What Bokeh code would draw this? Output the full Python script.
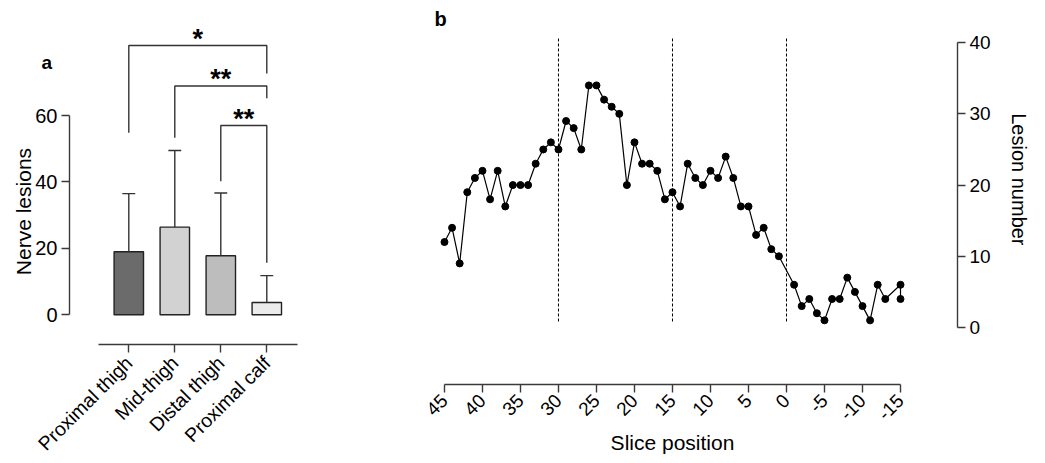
import math
from bokeh.plotting import figure
from bokeh.models import Range1d, FixedTicker, Label
from bokeh.layouts import row
from bokeh.embed import file_html
from bokeh.resources import INLINE
from bokeh.core.properties import value

# ---------------- Panel a data ----------------
categories = ["Proximal thigh", "Mid-thigh", "Distal thigh", "Proximal calf"]
lesion_means = [19.0, 26.4, 17.8, 3.7]
lesion_upper = [36.5, 49.5, 36.7, 11.8]
bar_colors = ["#6b6b6b", "#d2d2d2", "#bdbdbd", "#ebebeb"]
nerve_ticks = [0, 20, 40, 60]

# significance brackets (category index from/to, heights in data units)
bracket_from = [1, 2, 3]
bracket_to = [4, 4, 4]
bracket_top = [81.1, 68.9, 57.0]
bracket_left_end = [54.8, 53.3, 40.2]
bracket_right_end = [72.7, 65.2, 15.7]
bracket_labels = ["*", "**", "**"]

# ---------------- Panel b data ----------------
slice_positions = [45, 44, 43, 42, 41, 40, 39, 38, 37, 36, 35, 34, 33, 32, 31, 30,
                   29, 28, 27, 26, 25, 24, 23, 22, 21, 20, 19, 18, 17, 16, 15,
                   14, 13, 12, 11, 10, 9, 8, 7, 6, 5, 4, 3, 2, 1,
                   -1, -2, -3, -4, -5, -6, -7, -8, -9, -10, -11, -12, -13, -15, -15]
lesion_counts = [12, 14, 9, 19, 21, 22, 18, 22, 17, 20, 20, 20, 23, 25, 26, 25,
                 29, 28, 25, 34, 34, 32, 31, 30, 20, 26, 23, 23, 22, 18, 19,
                 17, 23, 21, 20, 22, 21, 24, 21, 17, 17, 13, 14, 11, 10,
                 6, 3, 4, 2, 1, 4, 4, 7, 5, 3, 1, 6, 4, 6, 4]
region_boundaries = [30, 15, 0]
slice_ticks = [45, 40, 35, 30, 25, 20, 15, 10, 5, 0, -5, -10, -15]
lesion_ticks = [0, 10, 20, 30, 40]

FONT = "Liberation Sans"
AX_COL = "#3a3a3a"


def style_axis(ax, label_size):
    ax.axis_line_color = AX_COL
    ax.axis_line_width = 1.4
    ax.major_tick_line_color = AX_COL
    ax.major_tick_line_width = 1.4
    ax.major_tick_in = 0
    ax.major_tick_out = 8
    ax.minor_tick_line_color = None
    ax.major_label_text_font = FONT
    ax.major_label_text_font_size = label_size
    ax.major_label_text_color = "black"


# ================= Panel a =================
cat_x = list(range(1, len(categories) + 1))

pa = figure(frame_width=292, frame_height=447,
            x_range=Range1d(-1.637, 4.711), y_range=Range1d(-42.08, 92.56),
            min_border_left=7, min_border_right=100, min_border_top=7,
            min_border_bottom=0,
            output_backend="svg", toolbar_location=None)
pa.outline_line_color = None
pa.grid.visible = False
pa.background_fill_color = "white"

pa.vbar(x=cat_x, top=lesion_means, bottom=0, width=0.64,
        fill_color=bar_colors, line_color="#222222", line_width=1.4)
pa.segment(x0=cat_x, y0=lesion_means, x1=cat_x, y1=lesion_upper,
           line_color="#333333", line_width=1.4)
pa.segment(x0=[x - 0.14 for x in cat_x], y0=lesion_upper,
           x1=[x + 0.14 for x in cat_x], y1=lesion_upper,
           line_color="#333333", line_width=1.4)

b_xs = [[a, a, b, b] for a, b in zip(bracket_from, bracket_to)]
b_ys = [[le, t, t, re] for le, t, re in zip(bracket_left_end, bracket_top, bracket_right_end)]
pa.multi_line(xs=b_xs, ys=b_ys, line_color="#333333", line_width=1.4)
pa.text(x=[(a + b) / 2 for a, b in zip(bracket_from, bracket_to)],
        y=bracket_top, text=bracket_labels,
        text_font=value(FONT), text_font_style="bold", text_font_size="27px",
        text_align="center", text_baseline="alphabetic", y_offset=-7,
        text_color="black")

pa.yaxis.ticker = FixedTicker(ticks=nerve_ticks)
pa.yaxis.bounds = (0, 60)
pa.yaxis.fixed_location = -0.289
pa.xaxis.ticker = FixedTicker(ticks=cat_x)
pa.xaxis.major_label_overrides = {x: c for x, c in zip(cat_x, categories)}
pa.xaxis.bounds = (0.348, 4.667)
pa.xaxis.fixed_location = -8.95
pa.xaxis.major_label_orientation = math.pi / 4
style_axis(pa.yaxis[0], "20px")
style_axis(pa.xaxis[0], "19.5px")
pa.yaxis.major_label_standoff = 4
pa.xaxis.major_label_standoff = 7

pa.add_layout(Label(x=-1.289, y=31.1, text="Nerve lesions", angle=math.pi / 2,
                    text_font=FONT, text_font_size="21px", text_color="black",
                    text_align="center", text_baseline="middle"))
pa.add_layout(Label(x=-0.898, y=76.1, text="a", text_font=FONT,
                    text_font_style="bold", text_font_size="19px",
                    text_color="black",
                    text_align="left", text_baseline="middle"))

# ================= Panel b =================
pb = figure(frame_width=605, frame_height=447,
            x_range=Range1d(46.97, -32.63), y_range=Range1d(-17.84, 44.94),
            y_axis_location="right",
            min_border_left=30, min_border_right=0, min_border_top=7,
            min_border_bottom=0,
            output_backend="svg", toolbar_location=None)
pb.outline_line_color = None
pb.grid.visible = False
pb.background_fill_color = "white"

pb.segment(x0=region_boundaries, y0=[0.84] * len(region_boundaries),
           x1=region_boundaries, y1=[40.7] * len(region_boundaries),
           line_color="black", line_width=1, line_dash="3 2")
pb.line(x=slice_positions, y=lesion_counts, line_color="black", line_width=1.2)
pb.scatter(x=slice_positions, y=lesion_counts, size=7, fill_color="black",
           line_color="black")

pb.xaxis.ticker = FixedTicker(ticks=slice_ticks)
pb.xaxis.major_label_overrides = {t: str(t) for t in slice_ticks}
pb.xaxis.bounds = (-15, 45)
pb.xaxis.fixed_location = -8.0
pb.xaxis.major_label_orientation = math.pi / 4
pb.yaxis.ticker = FixedTicker(ticks=lesion_ticks)
pb.yaxis.bounds = (0, 40)
pb.yaxis.fixed_location = -22.5
style_axis(pb.xaxis[0], "19px")
style_axis(pb.yaxis[0], "19px")
pb.xaxis.major_label_standoff = 5
pb.yaxis.major_label_standoff = 4

pb.add_layout(Label(x=15, y=-16.15, text="Slice position",
                    text_font=FONT, text_font_size="21px", text_color="black",
                    text_align="center", text_baseline="middle"))
pb.add_layout(Label(x=-30.53, y=20.8, text="Lesion number", angle=-math.pi / 2,
                    text_font=FONT, text_font_size="20px", text_color="black",
                    text_align="center", text_baseline="middle"))
pb.add_layout(Label(x=46.3, y=43.26, text="b", text_font=FONT,
                    text_font_style="bold", text_font_size="20px",
                    text_color="black",
                    text_align="left", text_baseline="middle"))

layout = row(pa, pb)
open("out.html", "w").write(file_html(layout, INLINE))
